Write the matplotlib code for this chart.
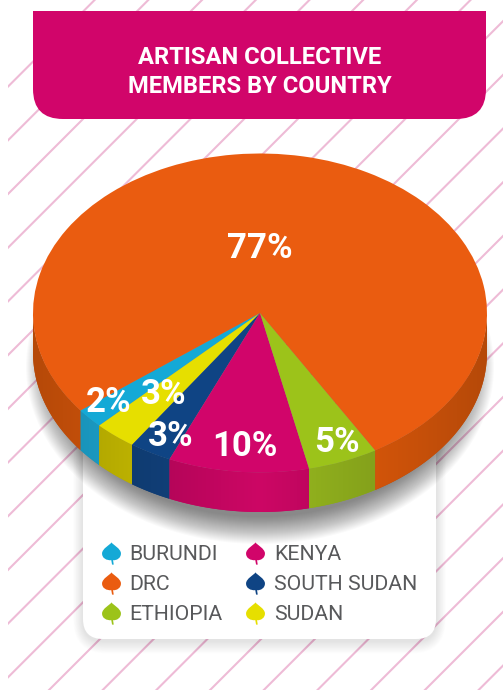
import numpy as np
import matplotlib
matplotlib.use("Agg")
import matplotlib.pyplot as plt
from matplotlib.colors import to_rgb
from matplotlib.patches import FancyBboxPatch, Polygon, Ellipse, PathPatch
from matplotlib.path import Path

title = "ARTISAN COLLECTIVE\nMEMBERS BY COUNTRY"
pie_countries = ["BURUNDI", "SUDAN", "SOUTH SUDAN", "KENYA", "ETHIOPIA", "DRC"]
pie_values = [2, 3, 3, 10, 5, 77]
pie_colors = ["#14a9d6", "#e6df00", "#0f4484", "#d1056a", "#9cc31a", "#ea5c10"]
side_colors = ["#1a96bd", "#b8ad00", "#103d74", "#c30660", "#8aa81c", "#bd4c09"]
legend_left = ["BURUNDI", "DRC", "ETHIOPIA"]
legend_right = ["KENYA", "SOUTH SUDAN", "SUDAN"]
value_labels = ["2%", "3%", "3%", "10%", "5%", "77%"]
label_x = [108.5, 164, 171, 245, 337, 260]
label_y = [402, 395, 436, 447, 442, 248]
start_angle = 217.7

W, H = 503, 690
fig = plt.figure(figsize=(W / 100, H / 100), dpi=100, facecolor="white")
ax = fig.add_axes([0, 0, 1, 1])
ax.set_xlim(0, W); ax.set_ylim(H, 0); ax.axis("off")


def rrect(x0, y0, x1, y1, r, **kw):
    return FancyBboxPatch((x0 + r, y0 + r), x1 - x0 - 2 * r, y1 - y0 - 2 * r,
                          boxstyle=f"round,pad={r},rounding_size={r}", lw=0, **kw)


# stripes
clip = plt.Rectangle((8, 0), W, H, transform=ax.transData)
for s in np.arange(94.6, 1300, 53.7):
    l, = ax.plot([s - 700, s + 5], [700, -5], color="#eebbd6", lw=1.5, zorder=1, solid_capstyle="butt")
    l.set_clip_path(clip)

# card and its soft shadow
for g in range(14, 0, -1):
    ax.add_patch(rrect(83 - g * .7, 420, 436 + g * .7, 639 + g * .9 + 2, 20 + g, fc="#000000", alpha=0.008, zorder=2))
ax.add_patch(rrect(83, 420, 436, 639, 20, fc="white", zorder=3))

# pie shadow
for g in range(-12, 16):
    ax.add_patch(Ellipse((260, 367), 2 * (222 - g), 2 * (165 - g), fc="black", alpha=0.021, lw=0, zorder=4))

# banner
bx0, bx1, by0, by1, r = 33, 486, 11, 119, 30
verts = [(bx0, by0), (bx1, by0), (bx1, by1 - r), (bx1, by1), (bx1 - r, by1), (bx0 + r, by1), (bx0, by1), (bx0, by1 - r), (bx0, by0)]
codes = [Path.MOVETO, Path.LINETO, Path.LINETO, Path.CURVE3, Path.CURVE3, Path.LINETO, Path.CURVE3, Path.CURVE3, Path.CLOSEPOLY]
ax.add_patch(PathPatch(Path(verts, codes), fc="#d1056a", lw=0, zorder=5))
ax.text(260, 72, title, color="white", family="Roboto", weight="bold", fontsize=17.1,
        ha="center", va="center", linespacing=1.29, zorder=6)

# pie on its own squashed axes
cx, cy, rx, ry = 260, 313, 227, 159.5
depth = 39.5 / ry
m = 1.4
pa = fig.add_axes([(cx - rx * m) / W, 1 - (cy + ry * m) / H, 2 * rx * m / W, 2 * ry * m / H], zorder=5)
pa.patch.set_alpha(0)
pa.pie(pie_values, startangle=start_angle, colors=pie_colors, radius=1, wedgeprops=dict(lw=0, zorder=8))

# extruded side wall with a horizontal gradient toward the rim
edges = start_angle + np.cumsum([0] + pie_values) * 3.6
for a0, a1, c in zip(edges[:-1], edges[1:], side_colors):
    t = np.radians(np.linspace(a0, a1, 600))
    t = t[np.sin(t) <= 0.02]
    mean_x = np.abs(np.cos(t)).mean()
    base = np.array(to_rgb(c))
    for run in np.split(t, np.where(np.diff(t) > 0.1)[0] + 1):
        if len(run) < 2:
            continue
        x, y = np.cos(run), np.sin(run)
        pts = np.r_[np.c_[x, y], np.c_[x[::-1], y[::-1] - depth]]
        poly = Polygon(pts, fc=c, lw=0, zorder=6)
        pa.add_patch(poly)
        gx = np.linspace(x.min(), x.max(), 64)
        shade = np.clip(base[None, :] * (1 - 0.3 * (np.abs(gx) - mean_x))[:, None], 0, 1)
        im = pa.imshow(shade[None, :, :], extent=[gx[0], gx[-1], pts[:, 1].min(), pts[:, 1].max()],
                       aspect="auto", origin="lower", interpolation="bilinear", zorder=7)
        im.set_clip_path(poly)
pa.set_aspect("auto"); pa.set_xlim(-m, m); pa.set_ylim(-m, m); pa.axis("off")

# value labels on a top overlay
top = fig.add_axes([0, 0, 1, 1], zorder=10)
top.set_xlim(0, W); top.set_ylim(H, 0); top.axis("off"); top.patch.set_alpha(0)
for lab, x, y in zip(value_labels, label_x, label_y):
    top.text(x, y, lab, color="white", family="Roboto", weight="bold", fontsize=25, ha="center", va="center")

# leaf legend markers
leaf = Path(
    [(0, 1), (0.12, .78), (.85, .45), (.85, 0), (.85, -.42), (.45, -.64), (.14, -.6),
     (.2, -1), (.05, -1), (-.02, -.6), (-.45, -.64), (-.85, -.42), (-.85, 0), (-.85, .45), (-.12, .78), (0, 1)],
    [Path.MOVETO, Path.CURVE4, Path.CURVE4, Path.CURVE4, Path.CURVE4, Path.CURVE4, Path.CURVE4,
     Path.LINETO, Path.LINETO, Path.LINETO, Path.CURVE4, Path.CURVE4, Path.CURVE4, Path.CURVE4, Path.CURVE4, Path.CURVE4])
color_of = dict(zip(pie_countries, pie_colors))
for names, mx, tx in ((legend_left, 111, 129), (legend_right, 255, 274)):
    for i, n in enumerate(names):
        y = 553 + i * 30
        top.plot([mx], [y], marker=leaf, ms=16, color=color_of[n], mew=0, ls="")
        top.text(tx, y + 7.5, n, color="#58595b", family="Roboto", fontsize=15.3, ha="left", va="baseline")
top.set_xlim(0, W); top.set_ylim(H, 0)

fig.savefig("out.png", dpi=100)
